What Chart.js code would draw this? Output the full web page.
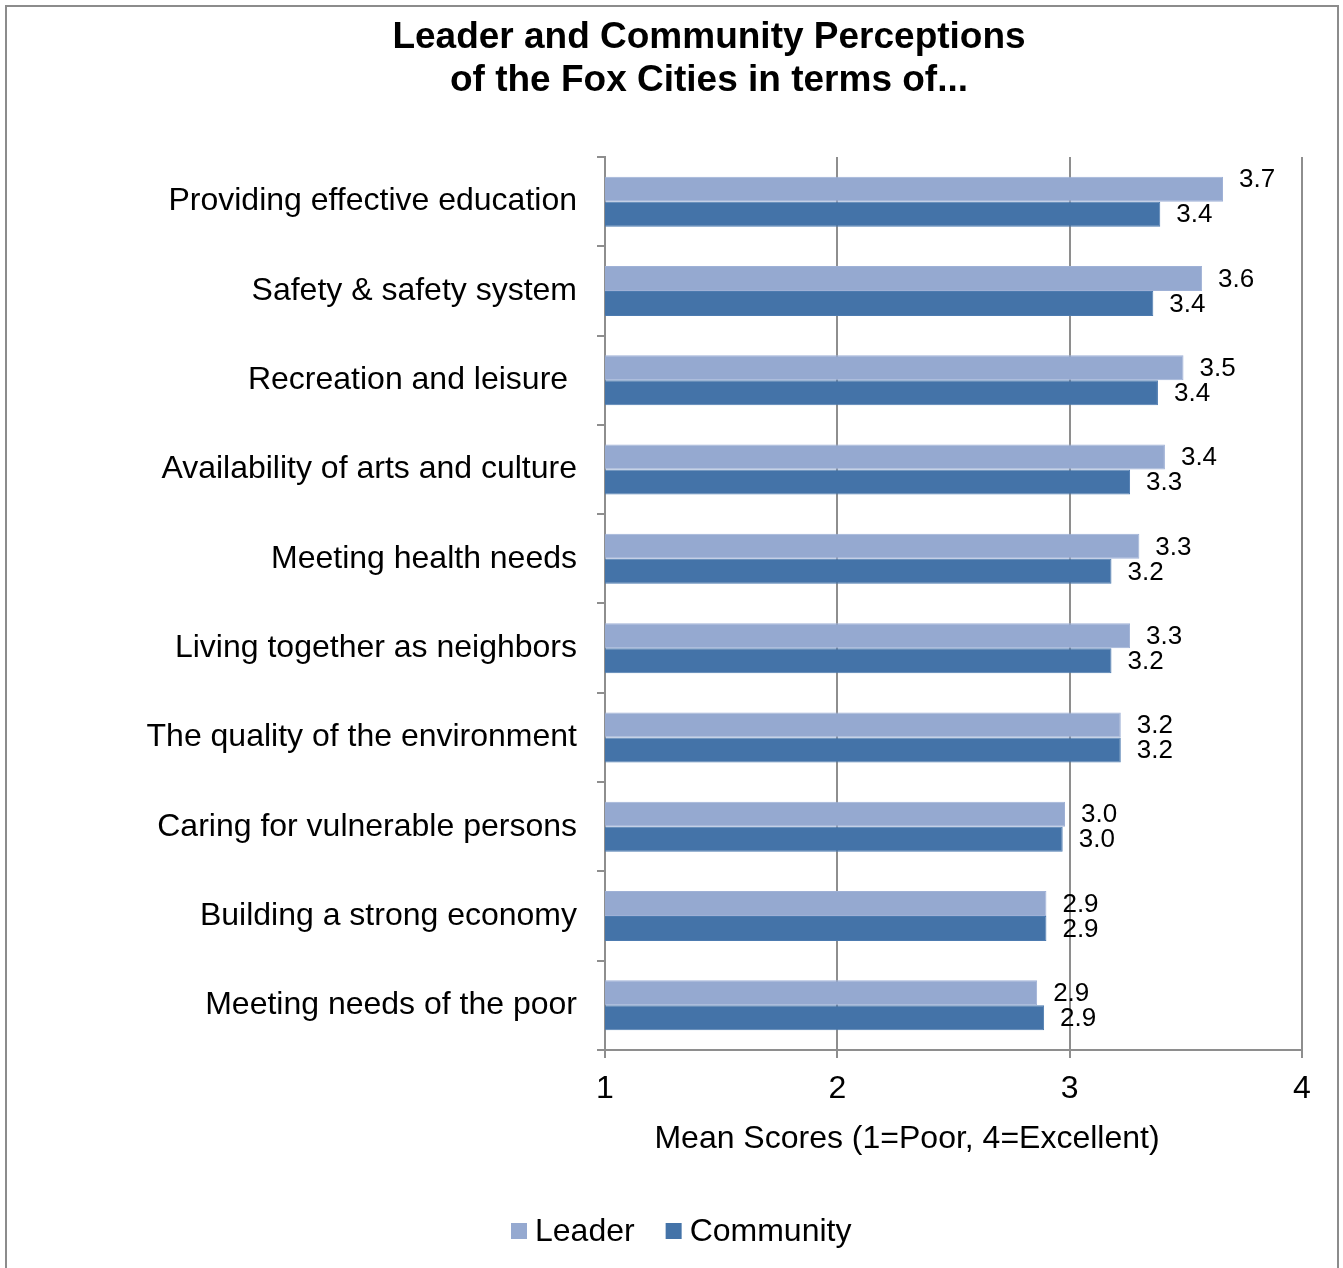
<!DOCTYPE html>
<html>
<head>
<meta charset="utf-8">
<title>Leader and Community Perceptions</title>
<script src="https://cdn.jsdelivr.net/npm/chart.js@4/dist/chart.umd.min.js"></script>
<style>
	body { margin: 0; background: #fff; }
	canvas { display: block; }
</style>
</head>
<body>
<canvas id="chart" width="1343" height="1268"></canvas>
<script>
const categories = [
	'Providing effective education',
	'Safety & safety system',
	'Recreation and leisure ',
	'Availability of arts and culture',
	'Meeting health needs',
	'Living together as neighbors',
	'The quality of the environment',
	'Caring for vulnerable persons',
	'Building a strong economy',
	'Meeting needs of the poor'
];
const leader = [3.66, 3.57, 3.49, 3.41, 3.30, 3.26, 3.22, 2.98, 2.90, 2.86];
const community = [3.39, 3.36, 3.38, 3.26, 3.18, 3.18, 3.22, 2.97, 2.90, 2.89];
const xTicks = [1, 2, 3, 4];

const FONT = '"Liberation Sans", Arial, sans-serif';
const AXIS_GRAY = '#8e8e8e';
const LEADER_COLOR = '#95a9d0';
const COMMUNITY_COLOR = '#4473a8';

// white page with the grey frame round the whole chart
const framePlugin = {
	id: 'frame',
	beforeDraw(chart) {
		const ctx = chart.ctx;
		ctx.save();
		ctx.fillStyle = '#fff';
		ctx.fillRect(0, 0, chart.width, chart.height);
		ctx.strokeStyle = '#8c8c8c';
		ctx.lineWidth = 2;
		ctx.strokeRect(6, 6, 1332, 1290);
		ctx.restore();
	}
};

// value printed just right of every bar
const valueLabels = {
	id: 'valueLabels',
	afterDatasetsDraw(chart) {
		const ctx = chart.ctx;
		ctx.save();
		ctx.font = '26px ' + FONT;
		ctx.fillStyle = '#000';
		ctx.textAlign = 'left';
		ctx.textBaseline = 'middle';
		chart.data.datasets.forEach((ds, i) => {
			chart.getDatasetMeta(i).data.forEach((bar, j) => {
				// the top label sits a little higher, clear of the frame of the plot
				const lift = (i === 0 && j === 0) ? -9 : 1;
				ctx.fillText(ds.data[j].toFixed(1), bar.x + 16, bar.y + lift);
			});
		});
		ctx.restore();
	}
};

// x axis title and the legend under it
const bottomTexts = {
	id: 'bottomTexts',
	afterDraw(chart) {
		const ctx = chart.ctx;
		ctx.save();
		ctx.font = '32px ' + FONT;
		ctx.fillStyle = '#000';
		ctx.textBaseline = 'middle';
		ctx.textAlign = 'center';
		ctx.fillText('Mean Scores (1=Poor, 4=Excellent)', 907, 1139);

		ctx.textAlign = 'left';
		let x = 511;
		chart.data.datasets.forEach(ds => {
			ctx.fillStyle = ds.backgroundColor;
			ctx.fillRect(x, 1223, 16, 16);
			ctx.fillStyle = '#000';
			ctx.fillText(ds.label, x + 24, 1232);
			x += 24 + ctx.measureText(ds.label).width + 31;
		});
		ctx.restore();
	}
};

new Chart(document.getElementById('chart'), {
	type: 'bar',
	data: {
		labels: categories,
		datasets: [{
			label: 'Leader',
			data: leader,
			backgroundColor: LEADER_COLOR,
			borderColor: '#9fb1d6',
			borderWidth: 1
		}, {
			label: 'Community',
			data: community,
			backgroundColor: COMMUNITY_COLOR,
			borderColor: '#4d7bb0',
			borderWidth: 1
		}]
	},
	plugins: [framePlugin, valueLabels, bottomTexts],
	options: {
		indexAxis: 'y',
		responsive: false,
		animation: false,
		devicePixelRatio: 1,
		categoryPercentage: 0.56,
		barPercentage: 1,
		layout: {
			padding: { left: 116, right: 41, top: 0, bottom: 0 }
		},
		plugins: {
			legend: { display: false },
			tooltip: { enabled: false },
			title: {
				display: true,
				text: ['Leader and Community Perceptions', 'of the Fox Cities in terms of...'],
				color: '#000',
				font: { family: FONT, size: 37, weight: 'bold', lineHeight: 1.162 },
				padding: { top: 16, bottom: 55 }
			}
		},
		scales: {
			x: {
				min: xTicks[0],
				max: xTicks[xTicks.length - 1],
				afterBuildTicks(scale) {
					scale.ticks = xTicks.map(v => ({ value: v }));
				},
				afterFit(scale) {
					scale.height = 218;
				},
				grid: {
					color: AXIS_GRAY,
					lineWidth: 2,
					tickLength: 8
				},
				border: { color: AXIS_GRAY, width: 2 },
				ticks: {
					color: '#000',
					padding: 12,
					font: { family: FONT, size: 32 }
				}
			},
			y: {
				afterFit(scale) {
					scale.width = 489;
				},
				grid: {
					offset: true,
					drawOnChartArea: false,
					color: AXIS_GRAY,
					lineWidth: 2,
					tickLength: 8
				},
				border: { color: AXIS_GRAY, width: 2 },
				ticks: {
					color: '#000',
					padding: 20,
					font: { family: FONT, size: 32 }
				}
			}
		}
	}
});
</script>
</body>
</html>
